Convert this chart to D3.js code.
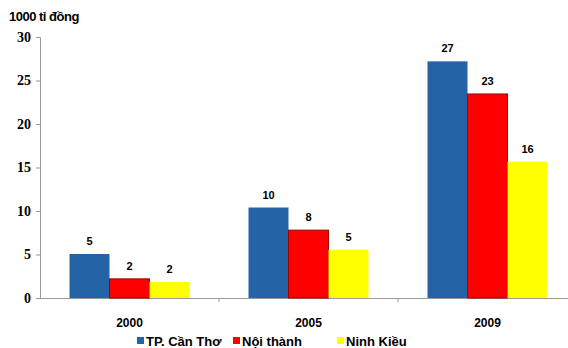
<!DOCTYPE html>
<html><head><meta charset="utf-8">
<script src="https://cdn.jsdelivr.net/npm/d3@7"></script>
<style>body{margin:0;background:#fff}svg{display:block}
.serif{font-family:"Liberation Serif","Times New Roman",serif !important}
.sans{font-family:"Liberation Sans",Arial,sans-serif}</style>
</head><body>
<script>
const categories = ["2000", "2005", "2009"];
const seriesNames = ["TP. Cần Thơ", "Nội thành", "Ninh Kiều"];
const canTho = [5.06, 10.4, 27.2];
const noiThanh = [2.2, 7.8, 23.45];
const ninhKieu = [1.84, 5.55, 15.67];
const labelsCanTho = ["5", "10", "27"];
const labelsNoiThanh = ["2", "8", "23"];
const labelsNinhKieu = ["2", "5", "16"];
const yTicks = [0, 5, 10, 15, 20, 25, 30];
const unitLabel = "1000 tỉ đồng";

const series = [
  {name: seriesNames[0], values: canTho, labels: labelsCanTho, color: "#2463a6", stroke: "none"},
  {name: seriesNames[1], values: noiThanh, labels: labelsNoiThanh, color: "#ff0000", stroke: "#a00000"},
  {name: seriesNames[2], values: ninhKieu, labels: labelsNinhKieu, color: "#ffff00", stroke: "none"}
];

const W = 568, H = 348;
const svg = d3.select("body").append("svg").attr("width", W).attr("height", H);

const x0 = d3.scaleBand().domain(categories).range([40, 577]).paddingInner(0).paddingOuter(0);
const y = d3.scaleLinear().domain([0, 30]).range([298, 37]);
const x1 = d3.scaleBand().domain(d3.range(series.length)).range([-60, 60]);

// Y axis
const yAxis = d3.axisLeft(y).tickValues(yTicks).tickSize(4).tickFormat(d3.format("d"));
const gy = svg.append("g").attr("transform", "translate(40,0)").call(yAxis);
gy.attr("font-family", null);
gy.select(".domain").attr("stroke", "#999");
gy.selectAll(".tick line").attr("stroke", "#999");
gy.selectAll(".tick text").attr("class", "serif")
  .style("font-weight", "bold").style("font-size", "14px").attr("fill", "#000").attr("x", -9);

// X axis
const gx = svg.append("g").attr("transform", "translate(0,298)")
  .call(d3.axisBottom(x0).tickSize(0).tickFormat(""));
gx.select(".domain").attr("stroke", "#999");
svg.append("g").selectAll("line").data(categories.slice(1)).join("line")
  .attr("x1", d => x0(d)).attr("x2", d => x0(d)).attr("y1", 298).attr("y2", 302)
  .attr("stroke", "#999");

svg.append("g").selectAll("text").data(categories).join("text")
  .attr("class", "sans")
  .attr("x", d => x0(d) + x0.bandwidth() / 2).attr("y", 327)
  .attr("text-anchor", "middle")
  .style("font-weight", "bold").style("font-size", "12px").text(d => d);

// Bars
series.forEach((s, i) => {
  const g = svg.append("g");
  g.selectAll("rect").data(categories).join("rect")
    .attr("x", (d, j) => x0(d) + x0.bandwidth() / 2 + x1(i))
    .attr("y", (d, j) => y(s.values[j]))
    .attr("width", x1.bandwidth())
    .attr("height", (d, j) => y(0) - y(s.values[j]))
    .attr("fill", s.color)
    .attr("stroke", s.stroke).attr("stroke-width", 1);
  g.selectAll("text").data(categories).join("text")
    .attr("class", "sans")
    .attr("x", (d, j) => x0(d) + x0.bandwidth() / 2 + x1(i) + x1.bandwidth() / 2)
    .attr("y", (d, j) => y(s.values[j]) - 9)
    .attr("text-anchor", "middle")
    .style("font-weight", "bold").style("font-size", "11px").text((d, j) => s.labels[j]);
});

// Unit label
svg.append("text").attr("class", "sans").attr("x", 9).attr("y", 21)
  .style("font-weight", "bold").style("font-size", "13px").style("letter-spacing", "-0.5px")
  .text(unitLabel);

// Legend
const legendX = [137, 233, 337];
const lg = svg.append("g").selectAll("g").data(series).join("g")
  .attr("transform", (d, i) => `translate(${legendX[i]},0)`);
lg.append("rect").attr("x", 0).attr("y", 337).attr("width", 7).attr("height", 7)
  .attr("fill", d => d.color);
lg.append("text").attr("class", "sans").attr("x", 9).attr("y", 346)
  .style("font-weight", "bold").style("font-size", "13px").text(d => d.name);
</script>
</body></html>
